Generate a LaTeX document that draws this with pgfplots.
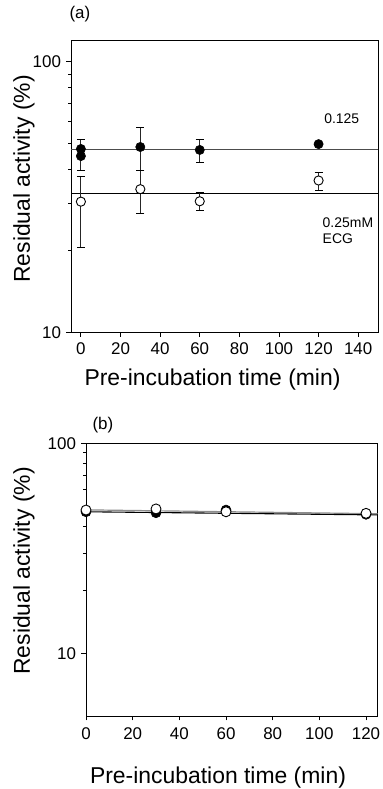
\documentclass[border=0pt]{standalone}
\usepackage{pgfplots}
\pgfplotsset{compat=1.18}
\usepackage{fontspec}
\setmainfont{Liberation Sans}
\begin{document}
\begin{tikzpicture}
\path[use as bounding box] (0,0) rectangle (383bp,789bp);
% ---------- panel (a)
\begin{axis}[scale only axis, ymode=log,
  axis line style={line width=0.9bp},
  tick style={line width=0.9bp, black},
  tick align=outside, major tick length=4.5bp,
  xtick pos=bottom, ytick pos=left,
  minor y tick num=0, ytick={10,100}, yticklabels={10,100},
  /pgf/number format/assume math mode=true,
  tick label style={font=\fontsize{17}{19}\selectfont},
  xticklabel style={yshift=-2bp},
  yticklabel style={xshift=-2bp},
  label style={font=\fontsize{23}{26}\selectfont},
  clip=false,
  at={(71bp,456.7bp)}, anchor=south west,
  width=307bp, height=291.6bp,
  xmin=-5, xmax=150, ymin=10, ymax=119.6,
  xtick={0,20,...,140},
  xlabel={Pre-incubation time (min)}, ylabel={Residual activity (\%)},
  xlabel style={at={(axis description cs:0.461,-0.1636)}, anchor=center},
  ylabel style={at={(axis description cs:-0.153,0.526)}, anchor=center},
]
\addplot[black!70, line width=1bp, no marks] coordinates {(-5,47.2) (150,47.2)};
\addplot[black, line width=1bp, no marks] coordinates {(-5,32.7) (150,32.7)};
\addplot[only marks, mark=*, mark size=4.6bp, mark options={fill=white, draw=black, line width=0.9bp},
  error bars/y dir=both, error bars/y explicit,
  error bars/error mark options={rotate=90, mark size=4bp, line width=1bp, black},
  error bars/error bar style={line width=1bp, black!85}] coordinates {
 (0,30.4) += (0,7.2) -= (0,9.8)
 (30,33.8) += (0,5.7) -= (0,6.4)
 (60,30.5) += (0,2.4) -= (0,2.4)
 (120,36.4) += (0,2.7) -= (0,3.1)
};
\addplot[only marks, mark=*, mark size=4.6bp, mark options={fill=black, draw=black, line width=0.6bp},
  error bars/y dir=both, error bars/y explicit,
  error bars/error mark options={rotate=90, mark size=4bp, line width=1bp, black},
  error bars/error bar style={line width=1bp, black!85}] coordinates {
 (0,47.6) += (0,4.0) -= (0,7.8)
 (30,48.4) += (0,8.8) -= (0,8.9)
 (60,47.2) += (0,4.4) -= (0,4.7)
};
\addplot[only marks, mark=*, mark size=4.6bp, mark options={fill=black, draw=black, line width=0.6bp}] coordinates {(0,44.8) (120,49.6)};
\node[font=\fontsize{14}{16}\selectfont] at (axis cs:131.7,61.4) {0.125};
\node[font=\fontsize{14}{16}\selectfont, align=left, anchor=west, inner sep=0pt] at (axis cs:122.0,23.8) {0.25mM\\ECG};
\node[font=\fontsize{17}{19}\selectfont] at (axis description cs:0.029,1.0916) {(a)};
\end{axis}
% ---------- panel (b)
\begin{axis}[scale only axis, ymode=log,
  axis line style={line width=0.9bp},
  tick style={line width=0.9bp, black},
  tick align=outside, major tick length=4.5bp,
  xtick pos=bottom, ytick pos=left,
  minor y tick num=0, ytick={10,100}, yticklabels={10,100},
  /pgf/number format/assume math mode=true,
  tick label style={font=\fontsize{17}{19}\selectfont},
  xticklabel style={yshift=-4bp},
  yticklabel style={xshift=-2bp},
  label style={font=\fontsize{23}{26}\selectfont},
  clip=false,
  at={(86bp,73bp)}, anchor=south west,
  width=291.7bp, height=272.7bp,
  xmin=0, xmax=125, ymin=5.03, ymax=100,
  xtick={0,20,...,120},
  xlabel={Pre-incubation time (min)}, ylabel={Residual activity (\%)},
  xlabel style={at={(axis description cs:0.4525,-0.227)}, anchor=center},
  ylabel style={at={(axis description cs:-0.2125,0.532)}, anchor=center},
]
\addplot[black!45, line width=1.2bp, no marks] coordinates {(0,48.2) (125,46.2)};
\addplot[black, line width=1.1bp, no marks] coordinates {(0,47.2) (125,45.6)};
\addplot[only marks, mark=*, mark size=5bp, mark options={fill=black, draw=black, line width=0.6bp}] coordinates {(0,47.2) (30,46.7) (60,48.1) (120,45.9)};
\addplot[only marks, mark=*, mark size=5bp, mark options={fill=white, draw=black, line width=0.9bp}] coordinates {(0,48.1) (30,48.7) (60,47.2) (120,46.4)};
\node[font=\fontsize{17}{19}\selectfont] at (axis description cs:0.058,1.067) {(b)};
\end{axis}
\end{tikzpicture}
\end{document}
